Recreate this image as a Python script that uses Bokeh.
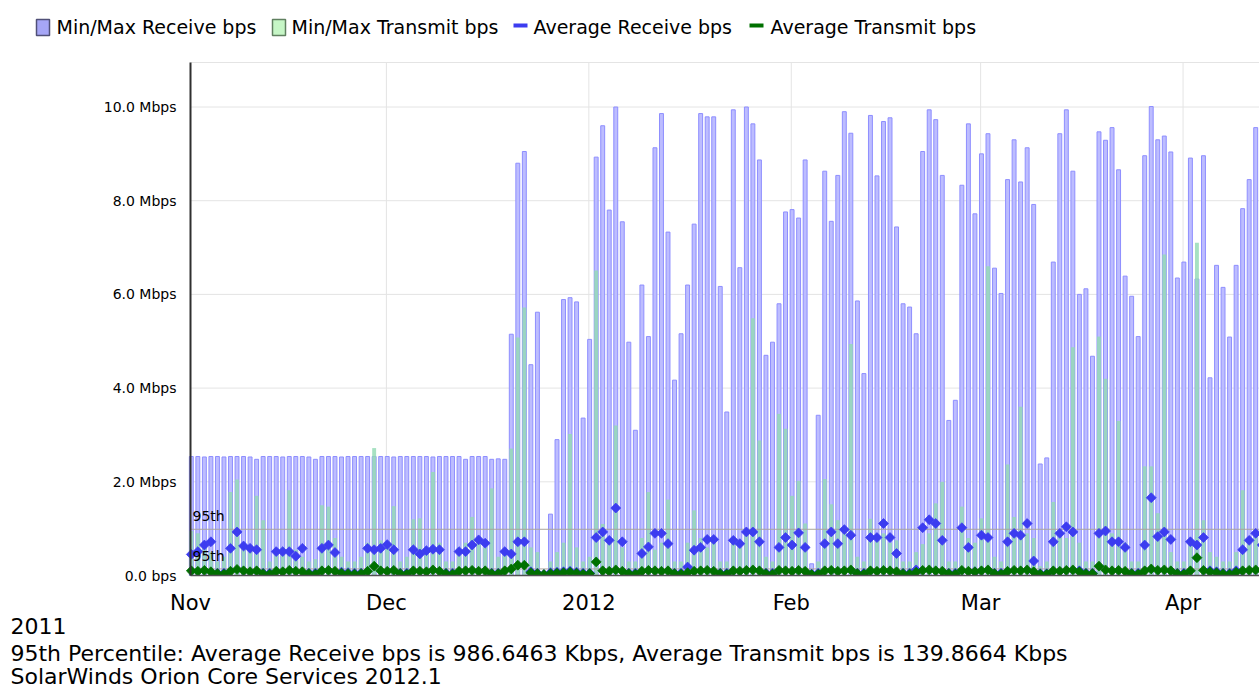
import numpy as np
import pandas as pd
from bokeh.plotting import figure
from bokeh.models import FixedTicker, Range1d, Label, ColumnDataSource, BoxAnnotation
from bokeh.core.properties import value
from bokeh.embed import file_html
from bokeh.resources import INLINE

# ---------------- data (daily, starting 2011-11-01), values in Mbps ----------------
start_date = "2011-11-01"

rx_max = [
    # Nov
    2.54, 2.54, 2.53, 2.54, 2.54, 2.53, 2.54, 2.54, 2.54, 2.53,
    2.48, 2.54, 2.54, 2.54, 2.53, 2.54, 2.54, 2.54, 2.53, 2.48,
    2.54, 2.54, 2.54, 2.53, 2.54, 2.54, 2.54, 2.54, 2.54, 2.54,
    # Dec
    2.54, 2.53, 2.54, 2.54, 2.54, 2.54, 2.54, 2.53, 2.54, 2.54,
    2.54, 2.54, 2.48, 2.54, 2.54, 2.54, 2.48, 2.49, 2.48, 5.15,
    8.80, 9.05, 4.50, 5.62, 0.02, 1.31, 2.90, 5.89, 5.93, 5.84,
    3.36,
    # Jan
    5.04, 8.93, 9.60, 7.80, 10.00, 7.55, 4.98, 3.10, 6.20, 5.10,
    9.13, 9.86, 7.33, 4.17, 5.16, 6.20, 7.50, 9.86, 9.79, 9.79,
    6.17, 3.49, 9.94, 6.57, 10.00, 9.64, 8.87, 4.70, 4.98, 5.80,
    7.76,
    # Feb
    7.81, 7.63, 8.87, 0.25, 3.42, 8.63, 7.56, 8.54, 9.90, 9.44,
    5.86, 4.31, 9.82, 8.53, 9.69, 9.77, 7.44, 5.80, 5.73, 5.16,
    9.05, 9.94, 9.73, 8.54, 3.31, 3.74, 8.33, 9.64, 7.72,
    # Mar
    9.00, 9.43, 6.56, 6.02, 8.45, 9.30, 8.40, 9.13, 7.92, 2.38,
    2.51, 6.69, 9.43, 9.94, 8.63, 6.00, 6.12, 4.68, 9.47, 9.29,
    9.56, 8.66, 6.39, 5.96, 5.10, 8.96, 10.01, 9.30, 9.38, 9.04,
    6.35,
    # Apr
    6.69, 8.91, 6.33, 8.96, 4.22, 6.62, 6.15, 5.09, 6.62, 7.83,
    8.45, 9.56, 7.72,
]

tx_max = [
    # Nov
    0.95, 0.90, 0.60, 0.50, 0.30, 0.40, 1.78, 2.05, 0.70, 0.60,
    1.70, 1.18, 0.30, 0.50, 0.60, 1.82, 0.55, 0.40, 0.30, 0.35,
    1.50, 1.47, 0.80, 0.40, 0.30, 0.30, 0.40, 0.70, 2.72, 0.75,
    # Dec
    0.70, 1.48, 0.30, 0.40, 1.20, 1.22, 0.60, 2.21, 0.70, 0.30,
    0.30, 0.60, 0.70, 1.25, 0.80, 0.60, 1.86, 0.40, 0.50, 2.71,
    5.08, 5.72, 0.60, 0.50, 0.00, 0.30, 0.50, 0.70, 3.02, 0.60,
    0.30,
    # Jan
    0.40, 6.51, 1.10, 0.80, 3.20, 0.60, 0.30, 0.30, 0.80, 1.78,
    0.55, 0.70, 1.62, 0.30, 0.30, 0.70, 1.39, 0.80, 0.60, 0.70,
    0.30, 0.30, 0.80, 0.60, 0.90, 5.49, 2.88, 0.40, 0.30, 3.45,
    3.13,
    # Feb
    1.70, 2.02, 1.11, 0.10, 0.30, 2.06, 1.52, 1.18, 0.90, 4.94,
    0.40, 0.30, 1.21, 0.80, 0.90, 0.70, 0.75, 0.30, 0.30, 0.50,
    0.67, 0.90, 1.54, 2.00, 0.30, 0.30, 1.47, 0.80, 0.70,
    # Mar
    1.22, 6.60, 0.40, 0.30, 2.37, 1.25, 3.60, 0.90, 0.80, 0.20,
    0.30, 1.57, 0.90, 0.80, 4.87, 0.70, 0.30, 0.30, 5.10, 4.20,
    0.90, 3.30, 0.70, 0.30, 0.30, 2.33, 2.33, 1.33, 6.85, 0.50,
    0.30,
    # Apr
    0.30, 0.80, 7.10, 1.18, 0.50, 0.40, 0.30, 0.30, 0.50, 1.82,
    0.80, 0.90, 0.70,
]

rx_avg = [
    # Nov
    0.45, 0.51, 0.65, 0.72, 0.05, 0.05, 0.58, 0.93, 0.63, 0.58,
    0.55, 0.05, 0.05, 0.51, 0.51, 0.51, 0.41, 0.58, 0.05, 0.05,
    0.58, 0.65, 0.49, 0.07, 0.06, 0.05, 0.05, 0.58, 0.55, 0.58,
    # Dec
    0.66, 0.55, 0.05, 0.05, 0.55, 0.46, 0.53, 0.56, 0.55, 0.05,
    0.05, 0.51, 0.51, 0.65, 0.76, 0.69, 0.05, 0.05, 0.51, 0.46,
    0.72, 0.72, 0.08, 0.05, 0.02, 0.06, 0.07, 0.08, 0.09, 0.07,
    0.05,
    # Jan
    0.05, 0.81, 0.93, 0.75, 1.44, 0.72, 0.05, 0.05, 0.47, 0.61,
    0.90, 0.90, 0.68, 0.05, 0.05, 0.18, 0.54, 0.60, 0.77, 0.77,
    0.05, 0.05, 0.75, 0.68, 0.93, 0.93, 0.72, 0.05, 0.05, 0.60,
    0.81,
    # Feb
    0.65, 0.91, 0.60, 0.03, 0.05, 0.68, 0.93, 0.68, 0.98, 0.86,
    0.05, 0.05, 0.81, 0.81, 1.11, 0.81, 0.47, 0.05, 0.05, 0.12,
    1.02, 1.19, 1.11, 0.75, 0.05, 0.05, 1.02, 0.60, 0.08,
    # Mar
    0.86, 0.81, 0.05, 0.05, 0.72, 0.90, 0.86, 1.11, 0.31, 0.04,
    0.04, 0.72, 0.90, 1.04, 0.93, 0.10, 0.05, 0.05, 0.90, 0.95,
    0.72, 0.72, 0.60, 0.05, 0.05, 0.65, 1.66, 0.83, 0.93, 0.77,
    0.05,
    # Apr
    0.05, 0.72, 0.65, 0.81, 0.10, 0.08, 0.05, 0.05, 0.10, 0.55,
    0.75, 0.90, 0.65,
]

tx_avg = [
    # Nov
    0.10, 0.09, 0.11, 0.08, 0.04, 0.03, 0.09, 0.13, 0.10, 0.08,
    0.10, 0.04, 0.03, 0.09, 0.08, 0.11, 0.09, 0.08, 0.04, 0.03,
    0.10, 0.11, 0.09, 0.05, 0.04, 0.03, 0.04, 0.09, 0.20, 0.10,
    # Dec
    0.09, 0.11, 0.04, 0.03, 0.10, 0.09, 0.08, 0.12, 0.09, 0.04,
    0.03, 0.09, 0.10, 0.11, 0.09, 0.10, 0.04, 0.04, 0.10, 0.14,
    0.22, 0.22, 0.06, 0.04, 0.02, 0.04, 0.05, 0.06, 0.07, 0.05,
    0.03,
    # Jan
    0.04, 0.29, 0.10, 0.09, 0.12, 0.09, 0.04, 0.03, 0.09, 0.11,
    0.10, 0.09, 0.10, 0.04, 0.03, 0.06, 0.09, 0.10, 0.11, 0.09,
    0.04, 0.03, 0.10, 0.09, 0.11, 0.12, 0.10, 0.04, 0.03, 0.11,
    0.10,
    # Feb
    0.09, 0.11, 0.09, 0.02, 0.03, 0.10, 0.11, 0.09, 0.10, 0.12,
    0.04, 0.03, 0.10, 0.09, 0.11, 0.10, 0.08, 0.04, 0.03, 0.07,
    0.11, 0.12, 0.10, 0.09, 0.04, 0.03, 0.11, 0.09, 0.08,
    # Mar
    0.10, 0.12, 0.04, 0.03, 0.09, 0.11, 0.10, 0.12, 0.08, 0.03,
    0.03, 0.10, 0.09, 0.11, 0.12, 0.08, 0.04, 0.04, 0.20, 0.12,
    0.10, 0.11, 0.09, 0.04, 0.03, 0.10, 0.14, 0.11, 0.12, 0.10,
    0.04,
    # Apr
    0.03, 0.10, 0.38, 0.11, 0.08, 0.06, 0.04, 0.03, 0.07, 0.10,
    0.11, 0.12, 0.10,
]

month_starts = ["2011-11-01", "2011-12-01", "2012-01-01", "2012-02-01", "2012-03-01", "2012-04-01"]
month_labels = ["Nov", "Dec", "2012", "Feb", "Mar", "Apr"]
ytick_values = [0, 2, 4, 6, 8, 10]
ytick_labels = ["0.0 bps", "2.0 Mbps", "4.0 Mbps", "6.0 Mbps", "8.0 Mbps", "10.0 Mbps"]
pct95_values = [0.9866463, 0.1398664]          # Mbps
pct95_label = "95th"

legend_labels = ["Min/Max Receive bps", "Min/Max Transmit bps", "Average Receive bps", "Average Transmit bps"]
footer_lines = [
    "2011",
    "95th Percentile: Average Receive bps is 986.6463  Kbps, Average Transmit bps is 139.8664  Kbps",
    "SolarWinds Orion Core Services 2012.1",
]

# ---------------- layout / styles ----------------
FONT = "DejaVu Sans"
RX_FILL, RX_LINE = "#bdbdff", "#8e8eff"
TX_FILL = "#94dab4"
RX_AVG_C, TX_AVG_C = "#3c3cf0", "#007000"
GRID_C = "#e4e4e4"

W, H = 1259, 690
AX_X, AX_Y_TOP, AX_Y0 = 190, 62, 575     # pixel position of the plot area edges
Y_TOP = 10.95
PX_PER_DAY = 6.53
PX_PER_MBPS = (AX_Y0 - AX_Y_TOP) / Y_TOP
DAY_MS = 86400000

t0 = pd.Timestamp(start_date)
t0_ms = t0.value // 10**6


def X(px):   # horizontal pixel -> time (ms)
    return t0_ms + (px - AX_X) / PX_PER_DAY * DAY_MS


def Y(py):   # vertical pixel -> Mbps
    return (AX_Y0 - py) / PX_PER_MBPS


t_end_ms = X(W)

n = len(rx_max)
dates = pd.date_range(start_date, periods=n, freq="D")
x_center = dates + pd.Timedelta(hours=3)
src = ColumnDataSource(dict(x=x_center, rx_max=rx_max, tx_max=tx_max, rx_avg=rx_avg, tx_avg=tx_avg))

p = figure(width=W, height=H, title=None, x_axis_type="datetime",
           x_range=Range1d(X(0), X(W)), y_range=Range1d(Y(H), Y(0)),
           output_backend="svg", toolbar_location=None, min_border=0,
           outline_line_color=None, background_fill_color="white", border_fill_color="white")
p.grid.visible = False

# grid lines of the plot area
month_ms = [pd.Timestamp(m).value // 10**6 for m in month_starts]
p.segment(x0=month_ms[1:], x1=month_ms[1:], y0=0, y1=Y_TOP, line_color=GRID_C, line_width=1)
h_lines = ytick_values[1:] + [Y_TOP]
p.segment(x0=t0_ms, x1=t_end_ms, y0=h_lines, y1=h_lines, line_color=GRID_C, line_width=1)

# data
p.vbar(x="x", top="rx_max", bottom=0, width=0.6 * DAY_MS, source=src,
       fill_color=RX_FILL, line_color=RX_LINE, line_width=1)
p.vbar(x="x", top="tx_max", bottom=0, width=0.6 * DAY_MS, source=src,
       fill_color=TX_FILL, fill_alpha=0.82, line_color=None)
p.segment(x0=t0_ms, x1=t_end_ms, y0=pct95_values, y1=pct95_values, line_color="#aaa59c", line_width=1)
p.scatter(x="x", y="rx_avg", marker="square", angle=np.pi / 4, size=7, source=src,
          fill_color=RX_AVG_C, line_color=RX_AVG_C, line_width=0.8)
p.scatter(x="x", y="tx_avg", marker="square", angle=np.pi / 4, size=7, source=src,
          fill_color=TX_AVG_C, line_color=TX_AVG_C, line_width=0.8)
# keep the markers inside the plot area (white mask just below the zero line)
p.add_layout(BoxAnnotation(left=t0_ms, top=0, bottom=Y(AX_Y0 + 8), fill_color="white",
                           fill_alpha=1, line_color=None, level="glyph"))

for v in pct95_values:
    p.add_layout(Label(x=t0_ms, y=v, text=pct95_label, x_offset=2, y_offset=13,
                       text_font=FONT, text_font_size="14px", text_baseline="alphabetic",
                       text_color="#000000"))

# axes, drawn at the plot area edges
p.xaxis.fixed_location = 0
p.xaxis.bounds = (t0_ms, t_end_ms)
p.xaxis.ticker = FixedTicker(ticks=month_ms)
p.xaxis.major_label_overrides = {float(ms): lab for ms, lab in zip(month_ms, month_labels)}
p.xaxis.major_label_text_font = FONT
p.xaxis.major_label_text_font_size = "21px"
p.xaxis.major_label_text_color = "#000000"
p.xaxis.major_label_standoff = 15
p.xaxis.major_tick_line_color = None
p.xaxis.minor_tick_line_color = None
p.xaxis.major_tick_out = 0
p.xaxis.axis_line_color = "#505050"
p.xaxis.axis_line_width = 1.5

p.yaxis.fixed_location = t0_ms
p.yaxis.bounds = (0, Y_TOP)
p.yaxis.ticker = FixedTicker(ticks=ytick_values)
p.yaxis.major_label_overrides = {v: lab for v, lab in zip(ytick_values, ytick_labels)}
p.yaxis.major_label_text_font = FONT
p.yaxis.major_label_text_font_size = "14px"
p.yaxis.major_label_text_color = "#000000"
p.yaxis.major_label_standoff = 14
p.yaxis.major_tick_line_color = None
p.yaxis.minor_tick_line_color = None
p.yaxis.major_tick_out = 0
p.yaxis.axis_line_color = "#303030"
p.yaxis.axis_line_width = 2

# legend row
sw_left = [X(36), X(272)]
sw_right = [X(49), X(285)]
p.quad(left=sw_left, right=sw_right, top=Y(19), bottom=Y(35),
       fill_color=["#a6a6f6", "#c6f6c6"], line_color=["#505078", "#608060"], line_width=1.5)
dash_l = [X(513), X(749)]
dash_r = [X(527), X(763)]
p.segment(x0=dash_l, x1=dash_r, y0=Y(25), y1=Y(25), line_color=[RX_AVG_C, TX_AVG_C], line_width=4)
p.text(x=[X(56), X(291), X(533), X(770)], y=Y(26), text=legend_labels,
       text_font=value(FONT), text_font_size="19px", text_baseline="alphabetic",
       text_align="left", text_color="#000000")

# footer lines
p.text(x=X(10), y=[Y(625), Y(653), Y(676)], text=footer_lines,
       text_font=value(FONT), text_font_size="22px", text_baseline="alphabetic",
       text_align="left", text_color="#000000")

open("out.html", "w").write(file_html(p, INLINE))
